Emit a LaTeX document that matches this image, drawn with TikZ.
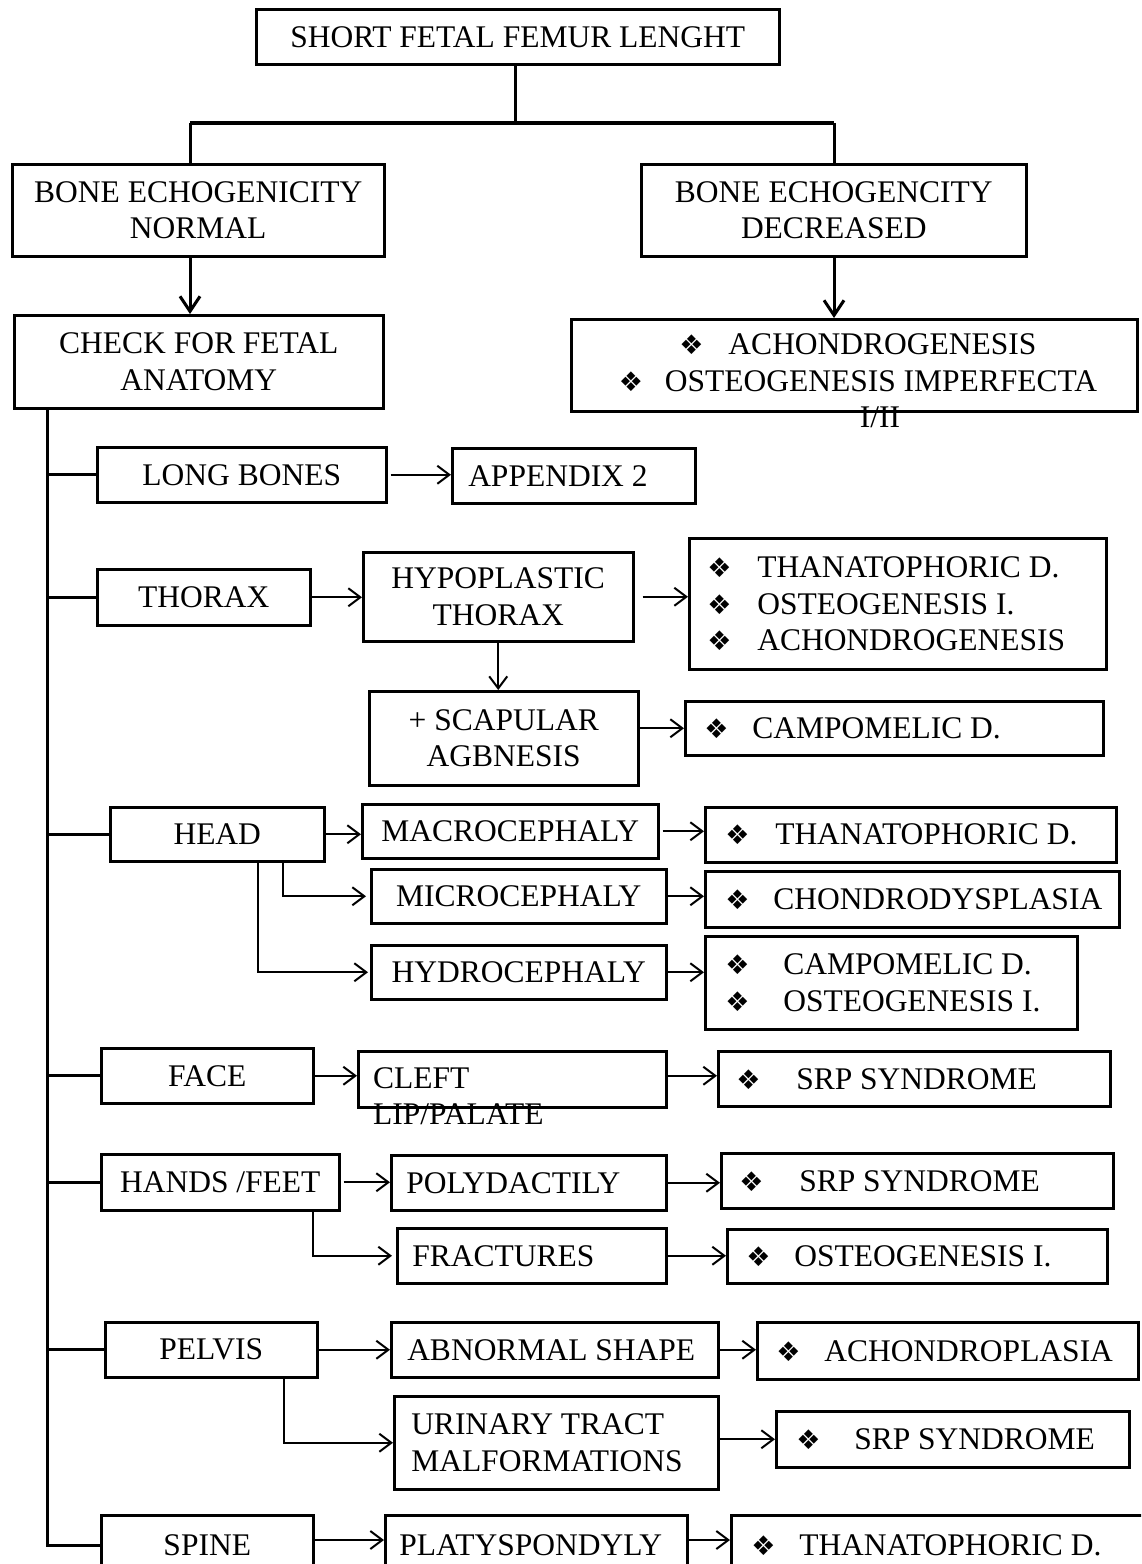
\documentclass[tikz,border=0pt]{standalone}
\usepackage{fontspec}
\setmainfont{Liberation Serif}
\newfontfamily\dvs{DejaVu Sans}
\usetikzlibrary{arrows.meta}
\newcommand\fs{\fontsize{31.5}{36.5}\selectfont}
\newcommand\bul{{\dvs\fontsize{27}{27}\selectfont\char"2756}}
\newcommand\bl[1]{\makebox[#1pt][l]{\bul}}
\newcommand\lw[2]{\makebox[#1pt][l]{#2}}
\begin{document}
\begin{tikzpicture}[x=1pt,y=-1pt,
  box/.style={draw, line width=2.5pt, inner sep=0pt, anchor=north west, align=center, font=\fs},
  txt/.style={inner sep=0pt, font=\fs},
  conn/.style={line width=3pt},
  hconn/.style={line width=4pt},
  bigarr/.style={line width=3pt, -{Straight Barb[length=15pt,width=20pt,line width=3pt]}},
  arr/.style={line width=2pt, -{Straight Barb[length=12pt,width=18pt,line width=2pt]}}]
\useasboundingbox (0,0) rectangle (1141,1564);
\clip (0,0) rectangle (1141,1564);

% top level
\node[box, minimum width=523, minimum height=55] (top) at (255,8) {SHORT FETAL FEMUR LENGHT};
\node[box, minimum width=372, minimum height=92] (ben) at (11,163) {BONE ECHOGENICITY\\NORMAL};
\node[box, minimum width=385, minimum height=92] (bed) at (640,163) {BONE ECHOGENCITY\\DECREASED};
\node[box, minimum width=369, minimum height=93] (chk) at (13,314) {CHECK FOR FETAL\\ANATOMY};
\node[box, minimum width=566, minimum height=92] (ach) at (570,318) {};
\node[txt, align=center] (achT) at (858,381) {\bl{49}ACHONDROGENESIS\\\bl{46}OSTEOGENESIS IMPERFECTA\\\hspace*{44pt}I/II};

\coordinate (jm) at (515,123);
\coordinate (jl) at (190,123);
\coordinate (jr) at (834,123);
\coordinate (sx) at (47,0);
\draw[conn] (jm |- top.south) -- (jm);
\draw[hconn] (jl) -- (jr);
\draw[conn] (jl) -- (jl |- ben.north);
\draw[conn] (jr) -- (jr |- bed.north);
\draw[bigarr] (jl |- ben.south) -- (jl |- chk.north);
\draw[bigarr] (jr |- bed.south) -- (jr |- ach.north);

% categories
\node[box, minimum width=289, minimum height=55] (lb) at (96,446) {LONG BONES};
\node[box, minimum width=243, minimum height=55] (app) at (451,447) {\lw{211}{APPENDIX 2}};

\node[box, minimum width=213, minimum height=56] (thx) at (96,568) {THORAX};
\node[box, minimum width=270, minimum height=89] (hyp) at (362,551) {HYPOPLASTIC\\THORAX};
\node[box, minimum width=417, minimum height=131] (thl) at (688,537) {\lw{381}{\bl{50}THANATOPHORIC D.}\\\lw{381}{\bl{50}OSTEOGENESIS I.}\\\lw{381}{\bl{50}ACHONDROGENESIS}};
\node[box, minimum width=269, minimum height=94] (scp) at (368,690) {+ SCAPULAR\\AGBNESIS};
\node[box, minimum width=418, minimum height=54] (cam) at (684,700) {\lw{380}{\bl{48}CAMPOMELIC D.}};

\node[box, minimum width=214, minimum height=54] (head) at (109,806) {HEAD};
\node[box, minimum width=296, minimum height=54] (mac) at (361,803) {MACROCEPHALY};
\node[box, minimum width=411, minimum height=55] (th2) at (704,806) {\lw{371}{\bl{50}THANATOPHORIC D.}};
\node[box, minimum width=295, minimum height=54] (mic) at (370,868) {MICROCEPHALY};
\node[box, minimum width=414, minimum height=56] (cho) at (704,870) {\lw{374}{\bl{48}CHONDRODYSPLASIA}};
\node[box, minimum width=295, minimum height=54] (hyd) at (370,944) {HYDROCEPHALY};
\node[box, minimum width=372, minimum height=93] (cam2) at (704,935) {\lw{332}{\bl{58}CAMPOMELIC D.}\\\lw{332}{\bl{58}OSTEOGENESIS I.}};

\node[box, minimum width=212, minimum height=55] (face) at (100,1047) {FACE};
\node[box, minimum width=308, minimum height=56] (clf) at (357,1050) {};
\node[txt, align=left, anchor=north west] (clfT) at (373,1067) {CLEFT\\LIP/PALATE};
\node[box, minimum width=392, minimum height=55] (srp1) at (717,1050) {\lw{356}{\bl{60}SRP SYNDROME}};

\node[box, minimum width=238, minimum height=56] (hf) at (100,1153) {HANDS /FEET};
\node[box, minimum width=275, minimum height=55] (pol) at (390,1154) {\lw{245}{POLYDACTILY}};
\node[box, minimum width=392, minimum height=55] (srp2) at (720,1152) {\lw{356}{\bl{60}SRP SYNDROME}};
\node[box, minimum width=269, minimum height=55] (frc) at (396,1227) {\lw{239}{FRACTURES}};
\node[box, minimum width=380, minimum height=54] (ost) at (726,1228) {\lw{342}{\bl{48}OSTEOGENESIS I.}};

\node[box, minimum width=212, minimum height=55] (pel) at (104,1321) {PELVIS};
\node[box, minimum width=327, minimum height=55] (abn) at (390,1321) {\lw{295}{ABNORMAL SHAPE}};
\node[box, minimum width=381, minimum height=57] (achp) at (756,1321) {\lw{343}{\bl{48}ACHONDROPLASIA}};
\node[box, minimum width=324, minimum height=93] (uri) at (393,1395) {\lw{290}{URINARY TRACT}\\\lw{290}{MALFORMATIONS}};
\node[box, minimum width=353, minimum height=56] (srp3) at (775,1410) {\lw{313}{\bl{58}SRP SYNDROME}};

\node[box, minimum width=212, minimum height=60] (spn) at (100,1514) {SPINE};
\node[box, minimum width=302, minimum height=60] (plt) at (384,1514) {\lw{274}{PLATYSPONDYLY}};
\node[box, minimum width=420, minimum height=60] (th3) at (730,1514) {\lw{380}{\bl{48}THANATOPHORIC D.}};

% spine and branches
\draw[conn] (sx |- chk.south) -- (sx |- spn.west) -- (spn.west);
\draw[conn] (sx |- lb.west) -- (lb.west);
\draw[conn] (sx |- thx.west) -- (thx.west);
\draw[conn] (sx |- head.west) -- (head.west);
\draw[conn] (sx |- face.west) -- (face.west);
\draw[conn] (sx |- hf.west) -- (hf.west);
\draw[conn] (sx |- pel.west) -- (pel.west);

% arrows
\draw[arr, shorten <=3pt] (lb.east) -- (lb.east -| app.west);
\draw[arr] (thx.east) -- (thx.east -| hyp.west);
\draw[arr, shorten <=8pt] (hyp.east) -- (hyp.east -| thl.west);
\draw[arr] (hyp.south) -- (hyp.south |- scp.north);
\draw[arr] (scp.east |- cam.west) -- (cam.west);

\draw[arr] (head.east) -- (head.east -| mac.west);
\draw[arr, shorten <=3pt] (mac.east) -- (mac.east -| th2.west);
\draw[arr] ([xshift=-43pt]head.south east) |- ([xshift=-4pt]mic.west);
\draw[arr] (mic.east) -- (mic.east -| cho.west);
\draw[arr] ([xshift=-68pt]head.south east) |- ([xshift=-2pt]hyd.west);
\draw[arr] (hyd.east) -- (hyd.east -| cam2.west);

\draw[arr] (face.east) -- (face.east -| clf.west);
\draw[arr] (clf.east |- face.east) -- (face.east -| srp1.west);

\draw[arr, shorten <=3pt] (hf.east) -- (hf.east -| pol.west);
\draw[arr] (pol.east) -- (pol.east -| srp2.west);
\draw[arr] ([xshift=-28pt]hf.south east) |- ([xshift=-4pt]frc.west);
\draw[arr] (frc.east) -- (frc.east -| ost.west);

\draw[arr] (pel.east) -- (pel.east -| abn.west);
\draw[arr] (abn.east) -- (abn.east -| achp.west);
\draw[arr] ([xshift=-35pt]pel.south east) |- (uri.west);
\draw[arr] (uri.east |- srp3.west) -- (srp3.west);

\draw[arr] (spn.east |- 0,1540) -- (plt.west |- 0,1540);
\draw[arr] (plt.east |- 0,1540) -- (th3.west |- 0,1540);
\end{tikzpicture}
\end{document}
